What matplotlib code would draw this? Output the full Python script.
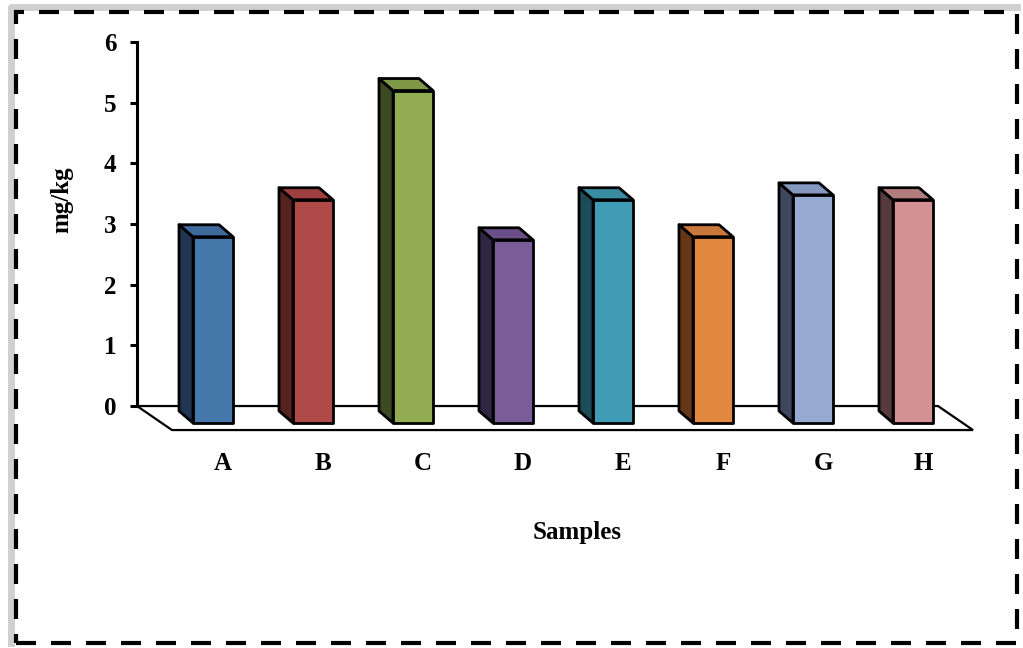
import matplotlib.pyplot as plt
from matplotlib.patches import Polygon, Rectangle
from matplotlib.lines import Line2D

# data
samples = ['A', 'B', 'C', 'D', 'E', 'F', 'G', 'H']
values = [3.07, 3.68, 5.48, 3.02, 3.68, 3.07, 3.76, 3.68]
front_colors = ['#4677AA', '#B04A48', '#92AC52', '#7A5C98',
                '#409CB4', '#E0883E', '#96AAD2', '#D49294']
side_colors = ['#1F3552', '#552220', '#3C4A22', '#2E2642',
               '#1D4B57', '#653716', '#3E475E', '#573A3C']
top_colors = ['#3E6A9B', '#9E403F', '#7F9847', '#6A4F88',
              '#3A8CA1', '#C7783A', '#8598BF', '#B37D80']

plt.rcParams['font.family'] = ['Liberation Serif', 'DejaVu Serif']
plt.rcParams['font.weight'] = 'bold'

fig = plt.figure(figsize=(10.23, 6.48), dpi=100)
ax = fig.add_axes([137 / 1023, (648 - 440) / 648, 853 / 1023, 398 / 648])
ax.set_xlim(-0.76, 7.77)
ax.set_ylim(-0.56, 6)

# pseudo 3d settings
half_w = 0.2
dep_x, dep_y = -0.14, 0.198
base_y = -0.28
floor_ox, floor_oy = 0.35, -0.396
floor_x0, floor_x1 = -0.76, 7.25

# floor
floor = Polygon([(floor_x0, 0), (floor_x1, 0),
                 (floor_x1 + floor_ox, floor_oy), (floor_x0 + floor_ox, floor_oy)],
                closed=True, facecolor='white', edgecolor='black', lw=1.6,
                clip_on=False, zorder=1)
ax.add_patch(floor)

# bars
for i, v in enumerate(values):
    xl, xr = i - half_w, i + half_w
    yb, yt = base_y, base_y + v
    side = [(xl, yb), (xl + dep_x, yb + dep_y), (xl + dep_x, yt + dep_y), (xl, yt)]
    top = [(xl, yt), (xl + dep_x, yt + dep_y), (xr + dep_x, yt + dep_y), (xr, yt)]
    front = [(xl, yb), (xr, yb), (xr, yt), (xl, yt)]
    for pts, c in [(side, side_colors[i]), (top, top_colors[i]), (front, front_colors[i])]:
        ax.add_patch(Polygon(pts, closed=True, facecolor=c, edgecolor='black',
                             lw=2, joinstyle='round', clip_on=False, zorder=3))
    ax.text(i + 0.1, -0.94, samples[i], ha='center', va='center',
            fontsize=18, fontweight='bold')

ax.text(3.64, -2.09, 'Samples', ha='center', va='center', fontsize=18, fontweight='bold')
fig.text(62 / 1023, 1 - 200 / 648, 'mg/kg', rotation=90, ha='center', va='center',
         fontsize=18, fontweight='bold')

# axis
for s in ['top', 'right', 'bottom']:
    ax.spines[s].set_visible(False)
ax.spines['left'].set_bounds(0, 6)
ax.spines['left'].set_linewidth(2.2)
ax.set_yticks(range(0, 7))
ax.tick_params(axis='y', direction='out', length=5, width=2.2, pad=10, labelsize=18)
ax.set_xticks([])
for lab in ax.get_yticklabels():
    lab.set_fontweight('bold')
ax.patch.set_visible(False)

# soft shadow on left and top, then dashed border
x0, y0, x1, y1 = 16 / 1023, 5 / 648, 1017 / 1023, 636 / 648
fig.lines.append(Line2D([x0 - 5 / 1023, x0 - 5 / 1023, x1], [y0, y1 + 5 / 648, y1 + 5 / 648],
                        transform=fig.transFigure, color='#d0d0d0', lw=5, zorder=0))
border = Rectangle((x0, y0), x1 - x0, y1 - y0, transform=fig.transFigure,
                   fill=False, edgecolor='black', lw=3, linestyle=(0, (4.8, 3.6)), zorder=1)
fig.patches.append(border)

fig.savefig('out.png', dpi=100)
